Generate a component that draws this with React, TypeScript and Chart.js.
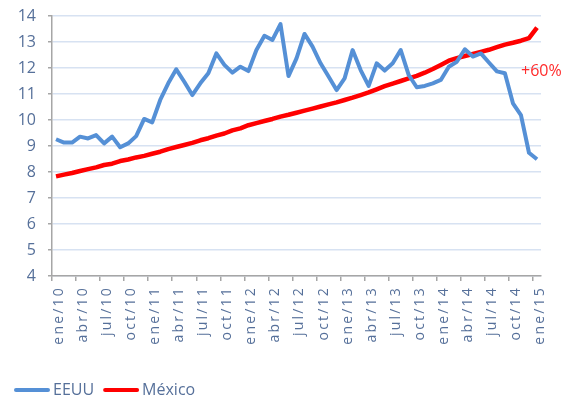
import React, { useEffect, useRef } from 'react';
import { Chart, registerables, CategoryScale } from 'chart.js';

Chart.register(...registerables);

const MONTHS = ['ene', 'feb', 'mar', 'abr', 'may', 'jun', 'jul', 'ago', 'sep', 'oct', 'nov', 'dic'];
const YEARS = ['10', '11', '12', '13', '14', '15'];
const categories: string[] = [];
for (const y of YEARS) {
  for (const m of MONTHS) {
    if (categories.length < 61) categories.push(`${m}/${y}`);
  }
}

const eeuu = [
  9.26, 9.13, 9.13, 9.36, 9.29, 9.42, 9.10, 9.36, 8.95, 9.10,
  9.38, 10.04, 9.91, 10.77, 11.41, 11.95, 11.47, 10.96, 11.41, 11.80,
  12.56, 12.12, 11.82, 12.05, 11.88, 12.69, 13.24, 13.08, 13.69, 11.69,
  12.37, 13.31, 12.82, 12.18, 11.67, 11.15, 11.60, 12.69, 11.92, 11.31,
  12.18, 11.90, 12.18, 12.69, 11.73, 11.26, 11.31, 11.41, 11.54, 12.05,
  12.24, 12.72, 12.44, 12.56, 12.21, 11.87, 11.80, 10.64, 10.19, 8.74,
  8.49,
];

const mexico = [
  7.83, 7.90, 7.96, 8.04, 8.11, 8.18, 8.27, 8.32, 8.42, 8.48,
  8.56, 8.62, 8.70, 8.78, 8.88, 8.96, 9.04, 9.12, 9.22, 9.30,
  9.40, 9.48, 9.60, 9.68, 9.80, 9.88, 9.96, 10.04, 10.13, 10.20,
  10.28, 10.36, 10.44, 10.52, 10.60, 10.68, 10.77, 10.86, 10.96, 11.06,
  11.18, 11.30, 11.40, 11.50, 11.60, 11.70, 11.82, 11.96, 12.12, 12.28,
  12.38, 12.46, 12.54, 12.62, 12.70, 12.80, 12.90, 12.97, 13.05, 13.15,
  13.55,
];

const SERIES_NAMES = ['EEUU', 'México'];
const ANNOTATION_TEXT = '+60%';
const ANNOTATION_VALUE = 11.87;

const BLUE = '#5590d6';
const RED = '#ff0000';
const TEXT = '#56709a';
const AXIS = '#a6a6a6';
const GRID = '#d7e2f2';

class SpacedCategoryScale extends CategoryScale {
  static id = 'spacedCategory';
  static defaults = CategoryScale.defaults;
  drawLabels(chartArea: any) {
    const ctx: any = this.ctx;
    ctx.save();
    ctx.letterSpacing = '2.2px';
    super.drawLabels(chartArea);
    ctx.restore();
  }
}
Chart.register(SpacedCategoryScale as any);

const overlayPlugin = {
  id: 'overlay',
  afterDraw(chart: any) {
    const { ctx, scales } = chart;
    ctx.save();
    ctx.font = '16px "Open Sans"';
    ctx.fillStyle = '#ff2a2a';
    ctx.textAlign = 'left';
    ctx.textBaseline = 'middle';
    const lastIdx = categories.length - 1;
    ctx.fillText(
      ANNOTATION_TEXT,
      scales.x.getPixelForValue(lastIdx) - 16,
      scales.y.getPixelForValue(ANNOTATION_VALUE)
    );
    const ly = 390;
    let x = 14;
    chart.data.datasets.forEach((ds: any) => {
      ctx.strokeStyle = ds.borderColor;
      ctx.lineWidth = 4;
      ctx.lineCap = 'round';
      ctx.beginPath();
      ctx.moveTo(x + 2, ly);
      ctx.lineTo(x + 34, ly);
      ctx.stroke();
      ctx.fillStyle = TEXT;
      ctx.font = '16px "Open Sans"';
      ctx.textAlign = 'left';
      ctx.textBaseline = 'middle';
      ctx.fillText(ds.label, x + 39, ly);
      x = x + 39 + ctx.measureText(ds.label).width + 9;
    });
    ctx.restore();
  },
};

export default function App() {
  const ref = useRef<HTMLCanvasElement>(null);
  useEffect(() => {
    if (!ref.current) return;
    const chart = new Chart(ref.current, {
      type: 'line',
      data: {
        labels: categories,
        datasets: [
          {
            label: SERIES_NAMES[0],
            data: eeuu,
            borderColor: BLUE,
            backgroundColor: BLUE,
            borderWidth: 4,
            pointRadius: 0,
            tension: 0,
            borderJoinStyle: 'round',
          },
          {
            label: SERIES_NAMES[1],
            data: mexico,
            borderColor: RED,
            backgroundColor: RED,
            borderWidth: 4.5,
            pointRadius: 0,
            tension: 0,
            borderJoinStyle: 'round',
          },
        ],
      },
      options: {
        responsive: false,
        animation: false,
        layout: { padding: { left: 0, top: 16, right: 36, bottom: 45 } },
        plugins: {
          legend: { display: false },
          tooltip: { enabled: false },
        },
        scales: {
          x: {
            type: 'spacedCategory' as any,
            offset: true,
            afterFit: (s: any) => { s.height = 80; },
            grid: {
              offset: true,
              drawOnChartArea: false,
              drawTicks: true,
              tickLength: 5,
              tickColor: (c: any) => (typeof c.index === 'number' && c.index % 3 === 0 ? AXIS : 'rgba(0,0,0,0)'),
              color: AXIS,
              lineWidth: 1.5,
            },
            border: { display: true, color: AXIS, width: 1.5 },
            ticks: {
              autoSkip: false,
              minRotation: 90,
              maxRotation: 90,
              padding: 5,
              labelOffset: 3,
              color: TEXT,
              font: { family: '"Open Sans"', size: 14 },
              callback: (v: any, i: number) => (i % 3 === 0 ? categories[i] : ''),
            },
          },
          y: {
            min: 4,
            max: 14,
            afterFit: (s: any) => { s.width = 52; s.paddingTop = 0; s.paddingBottom = 0; },
            grid: {
              color: GRID,
              lineWidth: 1.5,
              borderDash: [5, 4],
              tickBorderDash: [],
              tickColor: AXIS,
              tickLength: 4,
            } as any,
            border: { display: true, color: AXIS, width: 1.5 },
            ticks: {
              stepSize: 1,
              padding: 12,
              color: TEXT,
              font: { family: '"Open Sans"', size: 16 },
            },
          },
        },
      },
      plugins: [overlayPlugin],
    });
    return () => chart.destroy();
  }, []);
  return (
    <div style={{ position: 'absolute', left: 0, top: 0, width: 577, height: 401 }}>
      <canvas ref={ref} width={577} height={401} />
    </div>
  );
}
